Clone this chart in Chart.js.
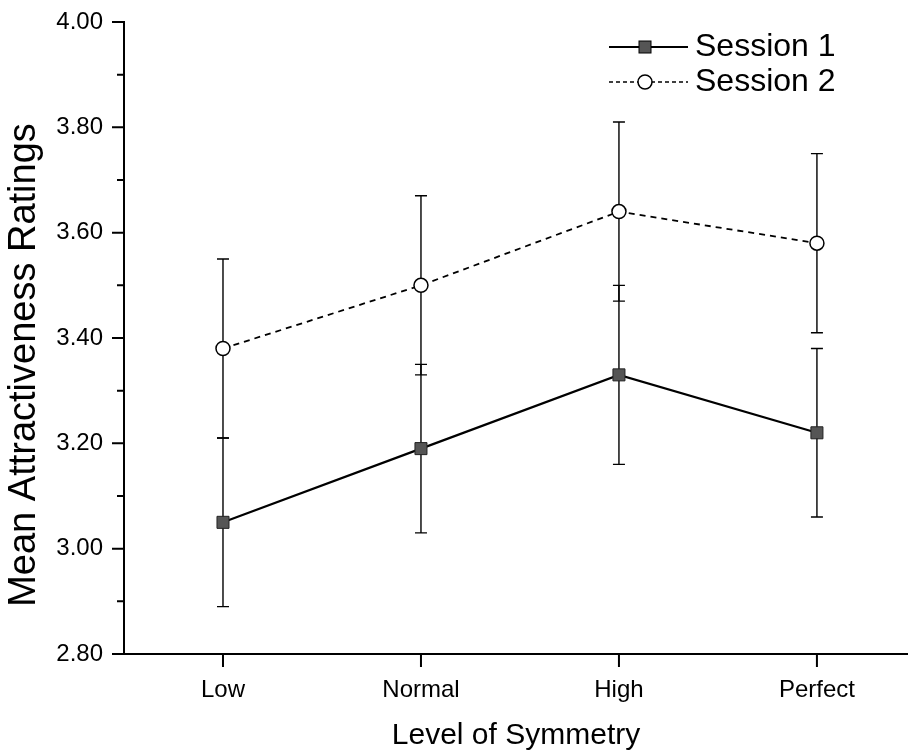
<!DOCTYPE html>
<html>
<head>
<meta charset="utf-8">
<script src="https://cdn.jsdelivr.net/npm/chart.js@4"></script>
<style>
html,body{margin:0;padding:0;background:#fff;}
#c{display:block;}
</style>
</head>
<body>
<canvas id="c" width="908" height="754"></canvas>
<script>
const categories = ['Low', 'Normal', 'High', 'Perfect'];
const session1 = [3.05, 3.19, 3.33, 3.22];
const session1Low = [2.89, 3.03, 3.16, 3.06];
const session1High = [3.21, 3.35, 3.50, 3.38];
const session2 = [3.38, 3.50, 3.64, 3.58];
const session2Low = [3.21, 3.33, 3.47, 3.41];
const session2High = [3.55, 3.67, 3.81, 3.75];
const yMajorTicks = [2.80, 3.00, 3.20, 3.40, 3.60, 3.80, 4.00];
const yMinorTicks = [2.90, 3.10, 3.30, 3.50, 3.70, 3.90];
const seriesNames = ['Session 1', 'Session 2'];
const xTitle = 'Level of Symmetry';
const yTitle = 'Mean Attractiveness Ratings';

const FONT = '"Liberation Sans", Arial, sans-serif';

const errorBars = {
  id: 'errorBars',
  beforeDatasetsDraw(chart) {
    const ctx = chart.ctx;
    const xs = chart.scales.x, ys = chart.scales.y;
    const sets = [[session1Low, session1High], [session2Low, session2High]];
    ctx.save();
    ctx.strokeStyle = '#000';
    ctx.lineWidth = 1.4;
    sets.forEach(([lo, hi]) => {
      categories.forEach((c, i) => {
        const x = xs.getPixelForValue(i);
        const y1 = ys.getPixelForValue(lo[i]);
        const y2 = ys.getPixelForValue(hi[i]);
        ctx.beginPath();
        ctx.moveTo(x, y1); ctx.lineTo(x, y2);
        ctx.moveTo(x - 6, y1); ctx.lineTo(x + 6, y1);
        ctx.moveTo(x - 6, y2); ctx.lineTo(x + 6, y2);
        ctx.stroke();
      });
    });
    ctx.restore();
  }
};

const axisTicks = {
  id: 'axisTicks',
  afterDraw(chart) {
    const ctx = chart.ctx;
    const xs = chart.scales.x, ys = chart.scales.y;
    const area = chart.chartArea;
    ctx.save();
    ctx.strokeStyle = '#000';
    ctx.lineWidth = 2;
    ctx.beginPath();
    yMajorTicks.forEach(v => {
      const y = ys.getPixelForValue(v);
      ctx.moveTo(area.left - 12, y); ctx.lineTo(area.left, y);
    });
    yMinorTicks.forEach(v => {
      const y = ys.getPixelForValue(v);
      ctx.moveTo(area.left - 7, y); ctx.lineTo(area.left, y);
    });
    categories.forEach((c, i) => {
      const x = xs.getPixelForValue(i);
      ctx.moveTo(x, area.bottom); ctx.lineTo(x, area.bottom + 13);
    });
    ctx.stroke();
    // y axis title
    ctx.fillStyle = '#000';
    ctx.font = '38px ' + FONT;
    ctx.textAlign = 'center';
    ctx.textBaseline = 'middle';
    ctx.translate(25, 365);
    ctx.rotate(-Math.PI / 2);
    ctx.fillText(yTitle, 0, 0);
    ctx.restore();
  }
};

const customLegend = {
  id: 'customLegend',
  afterDraw(chart) {
    const ctx = chart.ctx;
    const x0 = 609, x1 = 688, xm = 645, tx = 695;
    const rows = [47, 82];
    ctx.save();
    ctx.strokeStyle = '#000';
    ctx.lineWidth = 2;
    ctx.setLineDash([]);
    ctx.beginPath(); ctx.moveTo(x0, rows[0]); ctx.lineTo(x1, rows[0]); ctx.stroke();
    ctx.fillStyle = '#555';
    ctx.fillRect(xm - 6, rows[0] - 6, 12, 12);
    ctx.lineWidth = 1;
    ctx.strokeRect(xm - 6, rows[0] - 6, 12, 12);
    ctx.lineWidth = 1.5;
    ctx.setLineDash([4, 3]);
    ctx.beginPath(); ctx.moveTo(x0, rows[1]); ctx.lineTo(x1, rows[1]); ctx.stroke();
    ctx.setLineDash([]);
    ctx.fillStyle = '#fff';
    ctx.beginPath(); ctx.arc(xm, rows[1], 7, 0, Math.PI * 2); ctx.fill(); ctx.stroke();
    ctx.fillStyle = '#000';
    ctx.font = '32px ' + FONT;
    ctx.textBaseline = 'middle';
    ctx.textAlign = 'left';
    ctx.fillText(seriesNames[0], tx, rows[0]);
    ctx.fillText(seriesNames[1], tx, rows[1]);
    ctx.restore();
  }
};

new Chart(document.getElementById('c'), {
  type: 'line',
  data: {
    datasets: [
      {
        label: seriesNames[0],
        data: session1.map((v, i) => ({x: i, y: v})),
        borderColor: '#000',
        borderWidth: 2.2,
        backgroundColor: '#555',
        pointStyle: 'rect',
        pointRadius: 8.5,
        pointBorderWidth: 1,
        pointBorderColor: '#222',
        pointBackgroundColor: '#555',
        tension: 0
      },
      {
        label: seriesNames[1],
        data: session2.map((v, i) => ({x: i, y: v})),
        borderColor: '#000',
        borderWidth: 1.8,
        borderDash: [6, 5],
        pointStyle: 'circle',
        pointRadius: 7,
        pointBorderWidth: 1.5,
        pointBorderColor: '#000',
        pointBackgroundColor: '#fff',
        tension: 0
      }
    ]
  },
  options: {
    responsive: false,
    devicePixelRatio: 1,
    animation: false,
    events: [],
    layout: {autoPadding: false, padding: {top: 22, right: 0, bottom: 0, left: 0}},
    plugins: {legend: {display: false}, tooltip: {enabled: false}},
    scales: {
      x: {
        type: 'linear',
        min: -0.5,
        max: 3.46,
        afterBuildTicks(scale) { scale.ticks = categories.map((c, i) => ({value: i})); },
        afterFit(scale) { scale.height = 100; scale.paddingLeft = 0; scale.paddingRight = 0; },
        grid: {display: false, drawTicks: false},
        border: {display: true, color: '#000', width: 2},
        ticks: {
          padding: 22,
          color: '#000',
          font: {family: FONT, size: 24},
          maxRotation: 0,
          autoSkip: false,
          callback: (v) => categories[v] ?? ''
        },
        title: {
          display: true,
          text: xTitle,
          color: '#000',
          font: {family: FONT, size: 30},
          padding: {top: 0, bottom: 0}
        }
      },
      y: {
        type: 'linear',
        min: 2.8,
        max: 4.0,
        afterBuildTicks(scale) { scale.ticks = yMajorTicks.map(v => ({value: v})); },
        afterFit(scale) { scale.width = 124; scale.paddingTop = 0; scale.paddingBottom = 0; },
        grid: {display: false, drawTicks: false},
        border: {display: true, color: '#000', width: 2},
        ticks: {
          padding: 21,
          color: '#000',
          font: {family: FONT, size: 24},
          callback: (v) => Number(v).toFixed(2)
        },
        title: {display: false}
      }
    }
  },
  plugins: [errorBars, axisTicks, customLegend]
});
</script>
</body>
</html>
